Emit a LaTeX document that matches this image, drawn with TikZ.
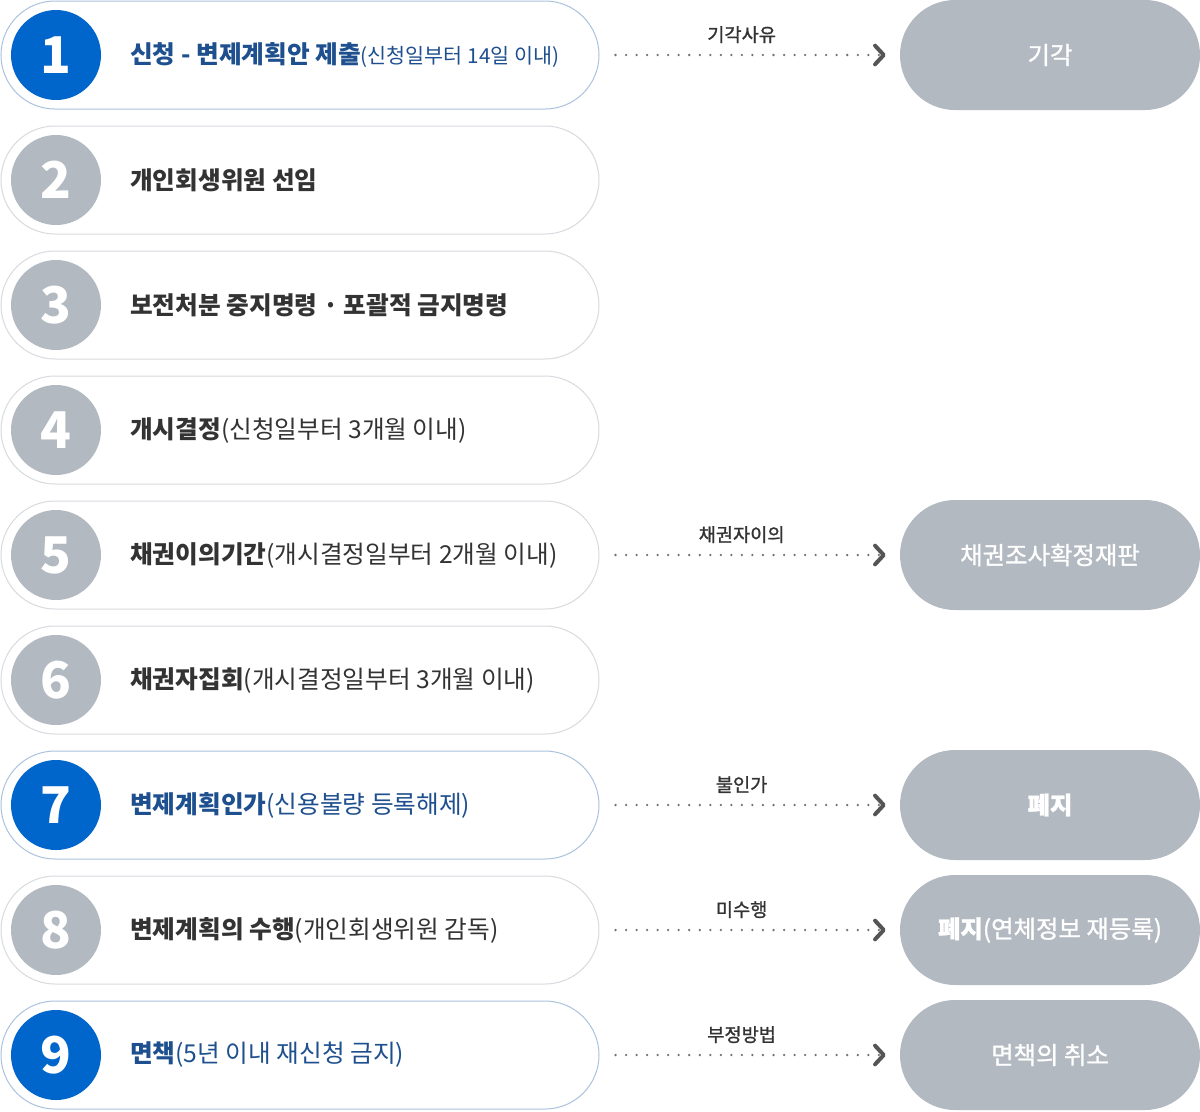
\documentclass[tikz,border=0pt]{standalone}
\usepackage{fontspec}
\setmainfont{Noto Sans CJK KR}
\newfontfamily\krmed{Noto Sans CJK KR}[FakeBold=1.2]
\usepackage{tikz}
\usetikzlibrary{arrows.meta}
\usetikzlibrary{shapes.misc}
\definecolor{stepblue}{HTML}{0066CC}
\definecolor{textblue}{HTML}{1E4F8E}
\definecolor{edgeblue}{HTML}{AAC2DE}
\definecolor{stepgray}{HTML}{B3B9C1}
\definecolor{edgegray}{HTML}{D7DADE}
\definecolor{textdark}{HTML}{333333}
\definecolor{dotgray}{HTML}{707070}
\definecolor{tipgray}{HTML}{555555}
\tikzset{
  pill/.style={rounded rectangle, line width=0.75pt, fill=white, inner sep=0pt,
    minimum width=448.5pt, minimum height=81pt},
  numcirc/.style={circle, draw=none, inner sep=0pt, minimum size=67.5pt,
    text=white, font=\fontsize{38pt}{40pt}\selectfont\bfseries},
  steptext/.style={anchor=west, inner sep=0pt, font=\fontsize{18.5pt}{22pt}\selectfont},
  endpill/.style={rounded rectangle, draw=none, fill=stepgray, inner sep=0pt,
    minimum width=225pt, minimum height=82.5pt, text=white,
    font=\fontsize{18.3pt}{22pt}\selectfont\krmed},
  dotline/.style={draw=dotgray, line width=1.9pt, line cap=round,
    dash pattern=on 0pt off 7.9pt, shorten <=12pt, shorten >=10.5pt,
    -{Straight Barb[length=6.5pt,width=14pt,line width=3pt,round,color=tipgray]}},
  reason/.style={above=8pt, xshift=-6pt, inner sep=0pt, text=textdark,
    font=\fontsize{14pt}{16pt}\selectfont\krmed}
}
\newcommand{\smallpar}[1]{{\fontsize{15.5pt}{20pt}\selectfont #1}}
% y, number, circle colour, border colour, text colour, text
\newcommand{\steprow}[6]{
  \node[pill, draw=#4] (s#2) at (300,#1) {};
  \node[numcirc, fill=#3] (n#2) at (56,#1) {#2};
  \node[steptext, text=#5] (t#2) at (130,#1) {#6};
}
% y, number, reason, result
\newcommand{\resultrow}[4]{
  \node[endpill] (e#2) at (1050,#1) {#4};
  \draw[dotline] (s#2.east) -- node[reason] {#3} (e#2.west);
}

\begin{document}
\begin{tikzpicture}[x=0.75pt, y=-0.75pt]
  \useasboundingbox (0,0) rectangle (1200,1111);
  % row1
  \steprow{55}{1}{stepblue}{edgeblue}{textblue}{\textbf{신청 - 변제계획안 제출}\smallpar{(신청일부터 14일 이내)}}
  \resultrow{55}{1}{기각사유}{기각}
  % row2
  \steprow{180}{2}{stepgray}{edgegray}{textdark}{\textbf{개인회생위원 선임}}
  % row3
  \steprow{305}{3}{stepgray}{edgegray}{textdark}{\textbf{보전처분 중지명령 · 포괄적 금지명령}}
  % row4
  \steprow{430}{4}{stepgray}{edgegray}{textdark}{\textbf{개시결정}(신청일부터 3개월 이내)}
  % row5
  \steprow{555}{5}{stepgray}{edgegray}{textdark}{\textbf{채권이의기간}(개시결정일부터 2개월 이내)}
  \resultrow{555}{5}{채권자이의}{채권조사확정재판}
  % row6
  \steprow{680}{6}{stepgray}{edgegray}{textdark}{\textbf{채권자집회}(개시결정일부터 3개월 이내)}
  % row7
  \steprow{805}{7}{stepblue}{edgeblue}{textblue}{\textbf{변제계획인가}(신용불량 등록해제)}
  \resultrow{805}{7}{불인가}{\textbf{폐지}}
  % row8
  \steprow{930}{8}{stepgray}{edgegray}{textdark}{\textbf{변제계획의 수행}(개인회생위원 감독)}
  \resultrow{930}{8}{미수행}{\textbf{폐지}(연체정보 재등록)}
  % row9
  \steprow{1055}{9}{stepblue}{edgeblue}{textblue}{\textbf{면책}(5년 이내 재신청 금지)}
  \resultrow{1055}{9}{부정방법}{면책의 취소}
\end{tikzpicture}
\end{document}
